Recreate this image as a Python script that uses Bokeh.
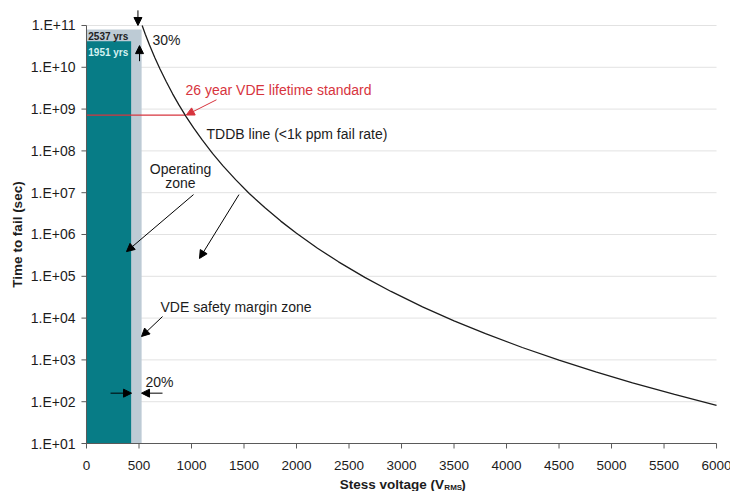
import math
from bokeh.plotting import figure
from bokeh.models import Range1d, Label, Arrow, NormalHead, ColumnDataSource
from bokeh.core.properties import value
from bokeh.embed import file_html
from bokeh.resources import INLINE

# ---------------- data ----------------
# TDDB line (<1k ppm fail rate): stress voltage (V rms) vs time to fail (s)
stress_voltage = [530, 560, 600, 650, 700, 760, 820, 880, 950, 1020, 1100, 1200, 1300,
                  1420, 1550, 1700, 1850, 2000, 2200, 2400, 2650, 2900, 3200, 3500,
                  3800, 4150, 4500, 4850, 5200, 5600, 6000]
time_to_fail = [1.0e11, 6.2e10, 3.4e10, 1.72e10, 9.1e9, 4.5e9, 2.32e9, 1.26e9, 6.5e8,
                3.54e8, 1.85e8, 8.7e7, 4.38e7, 2.05e7, 9.6e6, 4.34e6, 2.09e6, 1.07e6,
                4.7e5, 2.22e5, 9.44e4, 4.34e4, 1.86e4, 8.57e3, 4.23e3, 1.98e3, 9.84e2,
                5.15e2, 2.82e2, 1.49e2, 8.2e1]

# zones (bars): safety margin zone (light) and operating zone (teal)
zone_names = ["VDE safety margin zone", "Operating zone"]
zone_voltage = [525, 425]
zone_time = [8.0e10, 4.2e10]
zone_years = ["2537 yrs", "1951 yrs"]

# 26 year VDE lifetime standard
vde_standard_time = [7.2e8, 7.2e8]
vde_standard_voltage = [0, 940]

x_ticks = [0, 500, 1000, 1500, 2000, 2500, 3000, 3500, 4000, 4500, 5000, 5500, 6000]
x_tick_labels = ["0", "500", "1000", "1500", "2000", "2500", "3000", "3500", "4000",
                 "4500", "5000", "5500", "6000"]
y_ticks = [1e1, 1e2, 1e3, 1e4, 1e5, 1e6, 1e7, 1e8, 1e9, 1e10, 1e11]
y_tick_labels = ["1.E+01", "1.E+02", "1.E+03", "1.E+04", "1.E+05", "1.E+06",
                 "1.E+07", "1.E+08", "1.E+09", "1.E+10", "1.E+11"]

X_MIN, X_MAX = 0, 6000
Y_MIN, Y_MAX = 10, 1e11

FONT = "Liberation Sans"
TEAL = "#077c86"
GREY = "#bdcbd5"
RED = "#d7343e"
INK = "#1c1c1c"
AXIS = "#5a5a5a"

# The frame fills the whole canvas; both axes are drawn by hand inside it so that
# nothing (tick labels, titles, arrows above the data area) gets clipped.
p = figure(width=730, height=491, x_range=Range1d(-819, 6133),
           y_range=Range1d(0.711, 3.96e11), y_axis_type="log",
           x_axis_location=None, y_axis_location=None, output_backend="svg",
           toolbar_location=None, min_border_left=0, min_border_right=0,
           min_border_top=0, min_border_bottom=0,
           background_fill_color="white", border_fill_color="white")
p.outline_line_color = None
p.xgrid.visible = False
p.ygrid.visible = False

n_y, n_x = len(y_ticks), len(x_ticks)

# horizontal grid lines (only across the data area)
p.segment(x0=[X_MIN] * n_y, x1=[X_MAX] * n_y, y0=y_ticks, y1=y_ticks,
          line_color="#e2e2e2", line_width=1)

# zones
zsrc = ColumnDataSource(dict(name=zone_names, right=zone_voltage, top=zone_time,
                             left=[X_MIN, X_MIN], bottom=[Y_MIN, Y_MIN],
                             color=[GREY, TEAL]))
p.quad(left="left", right="right", bottom="bottom", top="top", fill_color="color",
       line_color=None, source=zsrc)

# VDE standard line
p.line(vde_standard_voltage, vde_standard_time, line_color=RED, line_width=1.2)

# TDDB curve
p.line(stress_voltage, time_to_fail, line_color=INK, line_width=1.3)

# ---- x axis ----
p.line([X_MIN, X_MAX], [Y_MIN, Y_MIN], line_color=AXIS, line_width=1)
p.segment(x0=x_ticks, x1=x_ticks, y0=[Y_MIN] * n_x, y1=[7.59] * n_x,
          line_color=AXIS, line_width=1)
p.text(x=x_ticks, y=[2.98] * n_x, text=x_tick_labels, text_align="center",
       text_baseline="middle", text_font=value(FONT), text_font_size="13.5px",
       text_color=INK)

# ---- y axis ----
p.line([X_MIN, X_MIN], [Y_MIN, Y_MAX], line_color=AXIS, line_width=1)
p.segment(x0=[X_MIN] * n_y, x1=[-48] * n_y, y0=y_ticks, y1=y_ticks,
          line_color=AXIS, line_width=1)
p.text(x=[-105] * n_y, y=y_ticks, text=y_tick_labels, text_align="right",
       text_baseline="middle", text_font=value(FONT), text_font_size="14px",
       text_color=INK)


def txt(x, y, s, color=INK, size="14px", style="normal", align="left",
        baseline="middle", angle=0.0):
    p.add_layout(Label(x=x, y=y, text=s, text_align=align, text_baseline=baseline,
                       text_font=FONT, text_font_size=size, text_font_style=style,
                       text_color=color, angle=angle))


def arrow(x0, y0, x1, y1, color="black"):
    p.add_layout(Arrow(x_start=x0, y_start=y0, x_end=x1, y_end=y1, line_color=color,
                       line_width=1,
                       end=NormalHead(size=8, fill_color=color, line_color=color)))


# axis titles
txt(-657, 1.0e6, "Time to fail (sec)", style="bold", size="13.5px", align="center",
    angle=math.pi / 2)
txt(3405, 1.04, "Stess voltage (V", style="bold", size="13.5px", align="right",
    baseline="alphabetic")
txt(3408, 0.88, "RMS", style="bold", size="8px", baseline="alphabetic")
txt(3570, 1.04, ")", style="bold", size="13.5px", baseline="alphabetic")

# bar labels
txt(17, 5.5e10, zone_years[0], color="#222222", size="10px", style="bold")
txt(17, 2.2e10, zone_years[1], color="#d4f1f1", size="10px", style="bold")

# 30% markers
arrow(490, 2.3e11, 490, 1.0e11)
arrow(505, 1.4e10, 505, 3.3e10)
txt(629, 4.4e10, "30%")

# VDE lifetime standard
txt(943, 2.8e9, "26 year VDE lifetime standard", color=RED)
arrow(1238, 1.67e9, 950, 7.2e8, color=RED)

txt(1143, 2.47e8, "TDDB line (<1k ppm fail rate)")

# operating zone
txt(895, 3.6e7, "Operating", align="center")
txt(895, 1.7e7, "zone", align="center")
arrow(1019, 9.0e6, 381, 3.9e5)
arrow(1452, 9.0e6, 1076, 2.67e5)

# safety margin zone
txt(705, 1.8e4, "VDE safety margin zone")
arrow(724, 1.09e4, 524, 3.63e3)

# 20%
txt(562, 304, "20%")
arrow(229, 160, 429, 160)
arrow(724, 160, 524, 160)

open("out.html", "w").write(file_html(p, INLINE))
